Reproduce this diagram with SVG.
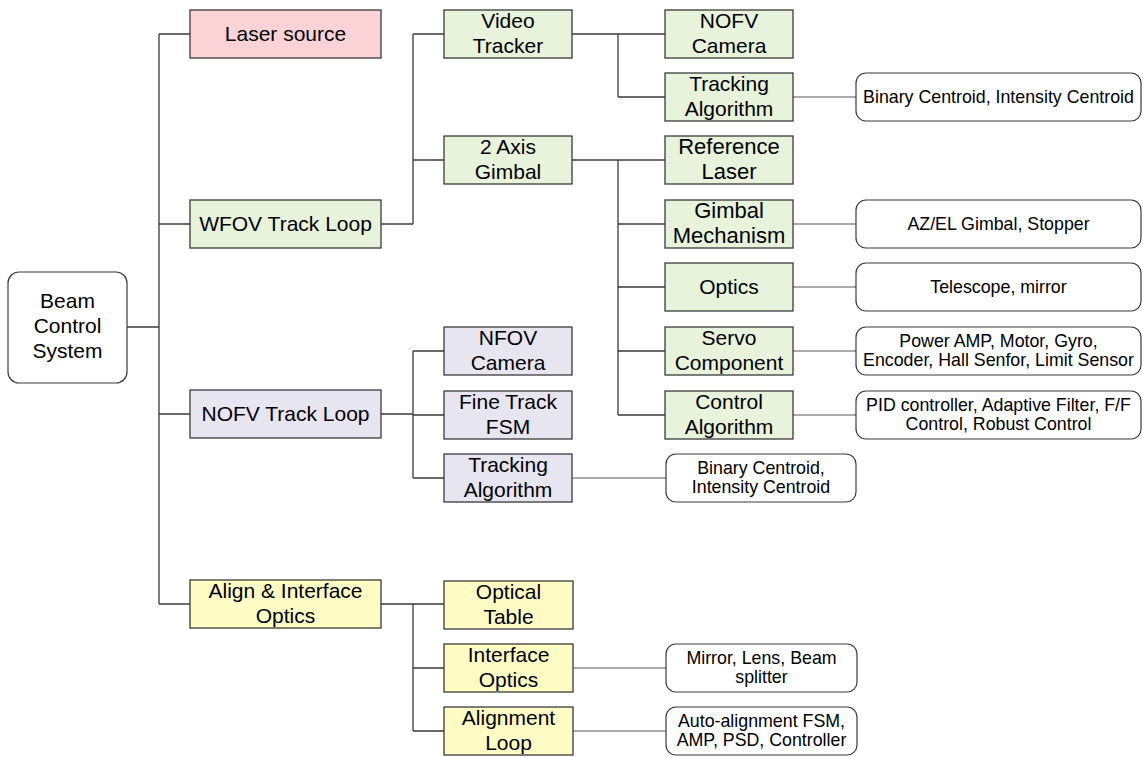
<svg xmlns="http://www.w3.org/2000/svg" width="1143" height="757" viewBox="0 0 1143 757">
  <style>
    .box { stroke: #3a3a3a; stroke-width: 1.3; }
    .pink { fill: #fbd2d6; }
    .green { fill: #e7f3da; }
    .lav { fill: #e7e5ef; }
    .yel { fill: #fefcc4; }
    .note { fill: #ffffff; stroke: #3a3a3a; stroke-width: 1.2; }
    .t { font-family: "Liberation Sans", Arial, sans-serif; font-size: 21px; fill: #000; text-anchor: middle; }
    .tl { font-size: 22px; }
    .s { font-family: "Liberation Sans", Arial, sans-serif; font-size: 17.8px; fill: #000; text-anchor: middle; }
    .wire { stroke: #3a3a3a; stroke-width: 1.3; fill: none; }
    .lite { stroke: #5a5a5a; stroke-width: 1.2; fill: none; }
  </style>

  <g id="connectors">
    <!-- root to first level -->
    <path class="wire" d="M127 327H159 M159 34V604 M159 34H190 M159 224H190 M159 414H190 M159 604H190"/>
    <!-- WFOV track loop -->
    <path class="wire" d="M381 224H413 M413 34V224 M413 34H444 M413 160H444"/>
    <!-- NOFV track loop -->
    <path class="wire" d="M381 414H413 M413 351V478 M413 351H444 M413 415H444 M413 478H444"/>
    <!-- Align & interface optics -->
    <path class="wire" d="M381 604H444 M413 604V731 M413 668H444 M413 731H444"/>
    <!-- Video tracker -->
    <path class="wire" d="M572 34H665 M618 34V97 M618 97H665"/>
    <!-- 2 axis gimbal -->
    <path class="wire" d="M572 160H665 M618 160V415 M618 224H665 M618 287H665 M618 351H665 M618 415H665"/>
    <!-- detail notes -->
    <path class="lite" d="M793 97H856 M793 224H856 M793 287H856 M793 351H856 M793 415H856 M572 478H666 M573 668H666 M573 731H666"/>
  </g>

  <g id="beam-control-system">
    <rect class="note" x="8" y="272" width="119" height="111" rx="11"/>
    <text class="t" x="67.5" y="308">Beam</text>
    <text class="t" x="67.5" y="333">Control</text>
    <text class="t" x="67.5" y="358">System</text>
  </g>

  <g id="laser-source">
    <rect class="box pink" x="190" y="10" width="191" height="48"/>
    <text class="t" x="285.5" y="41">Laser source</text>
  </g>
  <g id="wfov-track-loop">
    <rect class="box green" x="190" y="200" width="191" height="48"/>
    <text class="t" x="285.5" y="231">WFOV Track Loop</text>
  </g>
  <g id="nofv-track-loop">
    <rect class="box lav" x="190" y="390" width="191" height="48"/>
    <text class="t" x="285.5" y="421">NOFV Track Loop</text>
  </g>
  <g id="align-interface-optics">
    <rect class="box yel" x="190" y="580" width="191" height="48"/>
    <text class="t" x="285.5" y="598">Align &amp; Interface</text>
    <text class="t" x="285.5" y="623">Optics</text>
  </g>

  <g id="video-tracker">
    <rect class="box green" x="444" y="10" width="128" height="48"/>
    <text class="t" x="508" y="28">Video</text>
    <text class="t" x="508" y="53">Tracker</text>
  </g>
  <g id="two-axis-gimbal">
    <rect class="box green" x="444" y="136" width="128" height="48"/>
    <text class="t" x="508" y="154">2 Axis</text>
    <text class="t" x="508" y="179">Gimbal</text>
  </g>
  <g id="nfov-camera">
    <rect class="box lav" x="444" y="327" width="128" height="48"/>
    <text class="t" x="508" y="345">NFOV</text>
    <text class="t" x="508" y="370">Camera</text>
  </g>
  <g id="fine-track-fsm">
    <rect class="box lav" x="444" y="391" width="128" height="48"/>
    <text class="t" x="508" y="409">Fine Track</text>
    <text class="t" x="508" y="434">FSM</text>
  </g>
  <g id="nofv-tracking-algorithm">
    <rect class="box lav" x="444" y="454" width="128" height="48"/>
    <text class="t" x="508" y="472">Tracking</text>
    <text class="t" x="508" y="497">Algorithm</text>
  </g>
  <g id="optical-table">
    <rect class="box yel" x="444" y="581" width="129" height="48"/>
    <text class="t" x="508.5" y="599">Optical</text>
    <text class="t" x="508.5" y="624">Table</text>
  </g>
  <g id="interface-optics">
    <rect class="box yel" x="444" y="644" width="129" height="48"/>
    <text class="t" x="508.5" y="662">Interface</text>
    <text class="t" x="508.5" y="687">Optics</text>
  </g>
  <g id="alignment-loop">
    <rect class="box yel" x="444" y="707" width="129" height="48"/>
    <text class="t" x="508.5" y="725">Alignment</text>
    <text class="t" x="508.5" y="750">Loop</text>
  </g>

  <g id="nofv-camera">
    <rect class="box green" x="665" y="10" width="128" height="48"/>
    <text class="t" x="729" y="28">NOFV</text>
    <text class="t" x="729" y="53">Camera</text>
  </g>
  <g id="wfov-tracking-algorithm">
    <rect class="box green" x="665" y="73" width="128" height="48"/>
    <text class="t" x="729" y="91">Tracking</text>
    <text class="t" x="729" y="116">Algorithm</text>
  </g>
  <g id="reference-laser">
    <rect class="box green" x="665" y="136" width="128" height="48"/>
    <text class="t tl" x="729" y="154">Reference</text>
    <text class="t tl" x="729" y="179">Laser</text>
  </g>
  <g id="gimbal-mechanism">
    <rect class="box green" x="665" y="200" width="128" height="48"/>
    <text class="t tl" x="729" y="218">Gimbal</text>
    <text class="t tl" x="729" y="243">Mechanism</text>
  </g>
  <g id="optics">
    <rect class="box green" x="665" y="263" width="128" height="48"/>
    <text class="t" x="729" y="294">Optics</text>
  </g>
  <g id="servo-component">
    <rect class="box green" x="665" y="327" width="128" height="48"/>
    <text class="t" x="729" y="345">Servo</text>
    <text class="t" x="729" y="370">Component</text>
  </g>
  <g id="control-algorithm">
    <rect class="box green" x="665" y="391" width="128" height="48"/>
    <text class="t" x="729" y="409">Control</text>
    <text class="t" x="729" y="434">Algorithm</text>
  </g>

  <g id="note-centroid-wfov">
    <rect class="note" x="856" y="73" width="285" height="48" rx="10"/>
    <text class="s" x="998.5" y="103">Binary Centroid, Intensity Centroid</text>
  </g>
  <g id="note-gimbal">
    <rect class="note" x="856" y="200" width="285" height="48" rx="10"/>
    <text class="s" x="998.5" y="230">AZ/EL Gimbal, Stopper</text>
  </g>
  <g id="note-optics">
    <rect class="note" x="856" y="263" width="285" height="48" rx="10"/>
    <text class="s" x="998.5" y="293">Telescope, mirror</text>
  </g>
  <g id="note-servo">
    <rect class="note" x="856" y="327" width="285" height="48" rx="10"/>
    <text class="s" x="998.5" y="347">Power AMP, Motor, Gyro,</text>
    <text class="s" x="998.5" y="366">Encoder, Hall Senfor, Limit Sensor</text>
  </g>
  <g id="note-control">
    <rect class="note" x="856" y="391" width="285" height="48" rx="10"/>
    <text class="s" x="998.5" y="411">PID controller, Adaptive Filter, F/F</text>
    <text class="s" x="998.5" y="430">Control, Robust Control</text>
  </g>
  <g id="note-centroid-nofv">
    <rect class="note" x="666" y="454" width="190" height="48" rx="10"/>
    <text class="s" x="761" y="474">Binary Centroid,</text>
    <text class="s" x="761" y="493">Intensity Centroid</text>
  </g>
  <g id="note-interface">
    <rect class="note" x="666" y="644" width="191" height="48" rx="10"/>
    <text class="s" x="761.5" y="664">Mirror, Lens, Beam</text>
    <text class="s" x="761.5" y="683">splitter</text>
  </g>
  <g id="note-alignment">
    <rect class="note" x="666" y="707" width="191" height="48" rx="10"/>
    <text class="s" x="761.5" y="727">Auto-alignment FSM,</text>
    <text class="s" x="761.5" y="746">AMP, PSD, Controller</text>
  </g>
</svg>
